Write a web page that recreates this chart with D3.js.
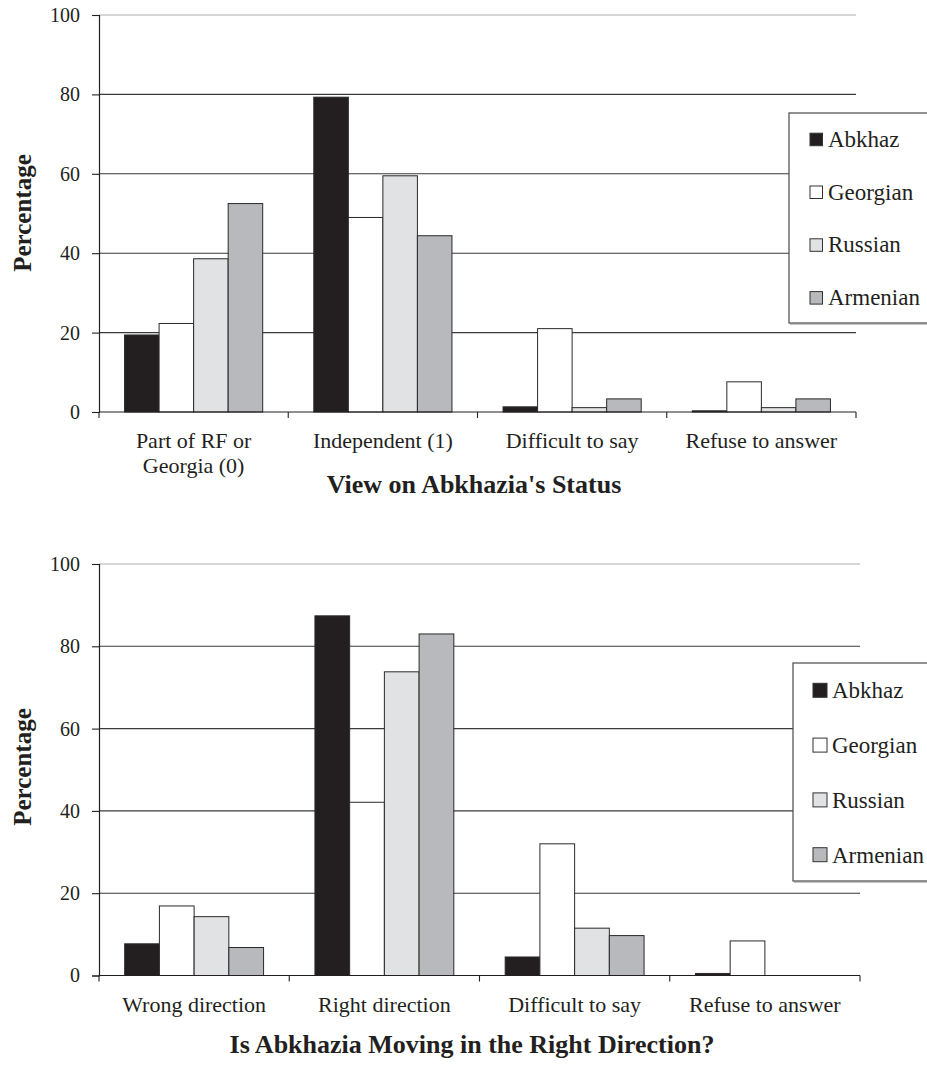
<!DOCTYPE html>
<html>
<head>
<meta charset="utf-8">
<script src="https://cdn.jsdelivr.net/npm/d3@7"></script>
<style>
  html, body { margin: 0; padding: 0; background: #fff; }
  svg { display: block; }
  svg text { font-family: "Liberation Serif", "Times New Roman", serif !important; fill: #231f20; }
</style>
</head>
<body>
<svg id="chart" width="927" height="1067"></svg>
<script>
// ---- Data ----
const seriesNames = ["Abkhaz", "Georgian", "Russian", "Armenian"];
const seriesColors = ["#231f20", "#ffffff", "#e1e2e4", "#b8b9bc"];
const yTickValues = [0, 20, 40, 60, 80, 100];

// Chart 1: View on Abkhazia's Status
const statusCategories = [["Part of RF or", "Georgia (0)"], ["Independent (1)"], ["Difficult to say"], ["Refuse to answer"]];
const statusAbkhaz   = [19.4, 79.3, 1.3, 0.3];
const statusGeorgian = [22.3, 49.0, 21.0, 7.6];
const statusRussian  = [38.6, 59.5, 1.1, 1.1];
const statusArmenian = [52.5, 44.4, 3.3, 3.3];
const statusTitle = "View on Abkhazia's Status";

// Chart 2: Is Abkhazia Moving in the Right Direction?
const directionCategories = [["Wrong direction"], ["Right direction"], ["Difficult to say"], ["Refuse to answer"]];
const directionAbkhaz   = [7.7, 87.4, 4.5, 0.5];
const directionGeorgian = [16.9, 42.1, 32.0, 8.4];
const directionRussian  = [14.3, 73.8, 11.5, 0];
const directionArmenian = [6.8, 83.0, 9.7, 0];
const directionTitle = "Is Abkhazia Moving in the Right Direction?";

const yAxisTitle = "Percentage";

// ---- Drawing ----
const FONT = "'Liberation Serif', 'Times New Roman', serif";
const svg = d3.select("#chart");

function drawChart(opt) {
  const g = svg.append("g");
  const cats = opt.categories.map((c, i) => "c" + i);
  const x = d3.scaleBand().domain(cats).range([opt.x0, opt.x1]).paddingInner(0.27).paddingOuter(0.135);
  const xs = d3.scaleBand().domain(seriesNames).range([0, x.bandwidth()]);
  const y = d3.scaleLinear().domain([0, 100]).range([opt.yBottom, opt.yTop]);

  // gridlines
  g.append("g").selectAll("line").data(yTickValues.filter(v => v > 0)).join("line")
    .attr("x1", opt.x0).attr("x2", opt.x1)
    .attr("y1", d => y(d)).attr("y2", d => y(d))
    .attr("stroke", d => d === 100 ? "#c8c8c8" : "#3a3a3a")
    .attr("stroke-width", d => d === 100 ? 1.6 : 1.1);

  // bars
  const rows = cats.map((c, i) => ({ cat: c, values: opt.values.map(v => v[i]) }));
  g.append("g").selectAll("g").data(rows).join("g")
    .attr("transform", d => `translate(${x(d.cat)},0)`)
    .selectAll("rect").data(d => d.values.map((v, j) => ({ name: seriesNames[j], v, j }))).join("rect")
    .attr("x", d => xs(d.name)).attr("width", xs.bandwidth())
    .attr("y", d => y(d.v)).attr("height", d => y(0) - y(d.v))
    .attr("fill", d => seriesColors[d.j])
    .attr("stroke", d => d.v > 0 ? "#2a2a2a" : "none")
    .attr("stroke-width", 1);

  // y axis
  const yAxis = d3.axisLeft(y).tickValues(yTickValues).tickSize(7).tickPadding(12);
  const ya = g.append("g").attr("transform", `translate(${opt.x0},0)`).call(yAxis)
    .attr("font-family", FONT).attr("font-size", 20);
  ya.select(".domain").attr("stroke", "#231f20").attr("stroke-width", 1.2);
  ya.selectAll(".tick line").attr("stroke", "#231f20").attr("stroke-width", 1.1);
  ya.selectAll(".tick text").attr("font-size", 20).attr("font-family", FONT).attr("fill", "#231f20");

  // x axis: line plus ticks at band boundaries
  const xa = g.append("g");
  xa.append("line").attr("x1", opt.x0).attr("x2", opt.x1).attr("y1", y(0)).attr("y2", y(0))
    .attr("stroke", "#231f20").attr("stroke-width", 1.2);
  const bounds = cats.map(c => x(c) - x.step() * x.paddingInner() / 2).concat([opt.x1]);
  xa.selectAll("line.t").data(bounds).join("line").attr("class", "t")
    .attr("x1", d => d).attr("x2", d => d).attr("y1", y(0)).attr("y2", y(0) + 6)
    .attr("stroke", "#231f20").attr("stroke-width", 1.1);

  // category labels
  const lab = g.append("g").selectAll("text").data(opt.categories).join("text")
    .attr("x", (d, i) => x(cats[i]) + x.bandwidth() / 2)
    .attr("y", opt.catBaseline)
    .attr("text-anchor", "middle")
    .attr("font-family", FONT)
    .attr("font-size", 22);
  lab.selectAll("tspan").data(d => d).join("tspan")
    .attr("x", function () { return d3.select(this.parentNode).attr("x"); })
    .attr("dy", (d, i) => i === 0 ? 0 : 25)
    .text(d => d);

  // axis titles
  g.append("text").attr("x", opt.titleX).attr("y", opt.titleY)
    .attr("text-anchor", "middle").attr("font-family", FONT).attr("font-size", 26).attr("font-weight", "bold")
    .text(opt.title);
  g.append("text").attr("transform", `translate(${opt.yTitleX},${opt.yTitleY}) rotate(-90)`)
    .attr("text-anchor", "middle").attr("font-family", FONT).attr("font-size", 25).attr("font-weight", "bold")
    .text(yAxisTitle);

  // legend
  const L = opt.legend;
  const lg = g.append("g");
  lg.append("rect").attr("x", L.x).attr("y", L.y).attr("width", 200).attr("height", L.h)
    .attr("fill", "#fff").attr("stroke", "#4a4a4a").attr("stroke-width", 1.2);
  lg.append("line").attr("x1", L.x + 1).attr("x2", 930).attr("y1", L.y + L.h + 0.8).attr("y2", L.y + L.h + 0.8)
    .attr("stroke", "#8a8a8a").attr("stroke-width", 1.5);
  const items = lg.selectAll("g.item").data(seriesNames).join("g").attr("class", "item")
    .attr("transform", (d, i) => `translate(0,${L.base0 + i * L.step})`);
  items.append("rect").attr("x", L.sqX).attr("y", -L.sq - 1).attr("width", L.sq).attr("height", L.sq)
    .attr("fill", (d, i) => seriesColors[i]).attr("stroke", "#333").attr("stroke-width", 1);
  items.append("text").attr("x", L.textX).attr("y", 0).attr("font-family", FONT).attr("font-size", 23).text(d => d);
}

drawChart({
  categories: statusCategories,
  values: [statusAbkhaz, statusGeorgian, statusRussian, statusArmenian],
  x0: 99, x1: 856, yTop: 15, yBottom: 412,
  catBaseline: 448, title: statusTitle, titleX: 474, titleY: 493,
  yTitleX: 31, yTitleY: 213,
  legend: { x: 789, y: 113, h: 210, sq: 12.5, sqX: 810, textX: 828, base0: 146.7, step: 52.8 }
});

drawChart({
  categories: directionCategories,
  values: [directionAbkhaz, directionGeorgian, directionRussian, directionArmenian],
  x0: 99, x1: 860, yTop: 564, yBottom: 975.5,
  catBaseline: 1011.7, title: directionTitle, titleX: 472, titleY: 1053,
  yTitleX: 31, yTitleY: 767,
  legend: { x: 793, y: 663, h: 218, sq: 14, sqX: 813, textX: 832, base0: 698.3, step: 54.8 }
});
</script>
</body>
</html>
